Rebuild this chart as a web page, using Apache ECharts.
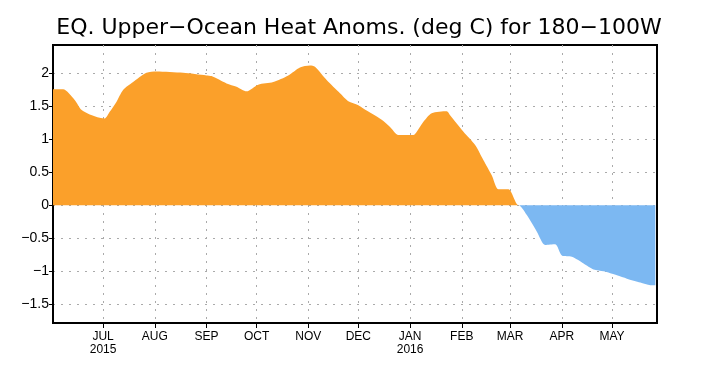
<!DOCTYPE html>
<html>
<head>
<meta charset="utf-8">
<script src="https://cdn.jsdelivr.net/npm/echarts@6/dist/echarts.min.js"></script>
<style>html,body{margin:0;padding:0;background:#fff;}#c{width:706px;height:377px;}</style>
</head>
<body>
<div id="c"></div>
<script>
var titleText = 'EQ. Upper\u2212Ocean Heat Anoms. (deg C) for 180\u2212100W';
var dates = ['2015-06-01','2015-06-07','2015-06-14','2015-06-18','2015-06-23','2015-06-29','2015-07-02','2015-07-05','2015-07-09','2015-07-13','2015-07-19','2015-07-27','2015-08-02','2015-08-18','2015-09-01','2015-09-04','2015-09-13','2015-09-19','2015-09-25','2015-10-02','2015-10-11','2015-10-20','2015-10-27','2015-11-02','2015-11-05','2015-11-12','2015-11-20','2015-11-25','2015-12-01','2015-12-04','2015-12-15','2015-12-20','2015-12-25','2016-01-03','2016-01-05','2016-01-09','2016-01-14','2016-01-23','2016-01-25','2016-02-02','2016-02-09','2016-02-14','2016-02-19','2016-02-23','2016-02-29','2016-03-06','2016-03-11','2016-03-17','2016-03-22','2016-03-28','2016-04-01','2016-04-07','2016-04-14','2016-04-20','2016-04-26','2016-05-04','2016-05-10','2016-05-18','2016-05-24','2016-05-27'];
var values = [1.75,1.75,1.59,1.44,1.37,1.32,1.31,1.41,1.56,1.74,1.86,2.0,2.02,2.0,1.96,1.95,1.84,1.79,1.72,1.82,1.86,1.96,2.08,2.11,2.09,1.89,1.69,1.57,1.51,1.46,1.29,1.18,1.06,1.06,1.11,1.26,1.39,1.42,1.36,1.11,0.91,0.68,0.45,0.24,0.24,0,-0.15,-0.40,-0.60,-0.59,-0.76,-0.78,-0.88,-0.97,-1.0,-1.06,-1.11,-1.17,-1.21,-1.21];
var monthStarts = ['2015-07-01','2015-08-01','2015-09-01','2015-10-01','2015-11-01','2015-12-01','2016-01-01','2016-02-01','2016-03-01','2016-04-01','2016-05-01'];
var monthLabels = ['JUL\n2015','AUG','SEP','OCT','NOV','DEC','JAN\n2016','FEB','MAR','APR','MAY'];
var yTicks = [-1.5,-1,-0.5,0,0.5,1,1.5,2];
var xStart = '2015-06-01';
var xEndDays = 362;
var yMin = -1.78, yMax = 2.42;

function dayOf(s){ return (Date.parse(s + 'T00:00:00Z') - Date.parse(xStart + 'T00:00:00Z')) / 86400000; }
var xs = dates.map(dayOf);
var monthDays = monthStarts.map(dayOf);
var posData = xs.map(function(x,i){ return [x, Math.max(values[i],0)]; });
var negData = xs.map(function(x,i){ return [x, Math.min(values[i],0)]; });
var labelMap = {};
monthDays.forEach(function(d,i){ labelMap[d] = monthLabels[i]; });

var chart = echarts.init(document.getElementById('c'), null, {renderer:'canvas'});
var font = 'Liberation Sans';
chart.setOption({
  animation:false,
  backgroundColor:'#fff',
  title:{text:titleText,left:354,top:12,textAlign:'center',
    textStyle:{fontFamily:'DejaVu Sans',fontSize:22,fontWeight:'normal',color:'#000'}},
  grid:{left:53,right:49,top:45,bottom:54,show:true,borderColor:'#000',borderWidth:2,backgroundColor:'transparent'},
  xAxis:{type:'value',min:0,max:xEndDays,
    axisLine:{show:true,onZero:false,lineStyle:{color:'#000',width:2}},
    axisTick:{show:true,customValues:monthDays,length:5,lineStyle:{color:'#000',width:1}},
    axisLabel:{customValues:monthDays,margin:7,color:'#000',fontFamily:font,fontSize:12,lineHeight:13,
      formatter:function(v){ return labelMap[Math.round(v)] || ''; }},
    splitLine:{show:true,lineStyle:{color:'#aaa',type:[2,6],width:1}}
  },
  yAxis:{type:'value',min:yMin,max:yMax,
    axisLine:{show:true,lineStyle:{color:'#000',width:2}},
    axisTick:{show:true,customValues:yTicks,length:4,lineStyle:{color:'#000',width:1}},
    axisLabel:{customValues:yTicks,margin:4,color:'#000',fontFamily:font,fontSize:14,
      formatter:function(v){ var s = String(Math.round(v*10)/10); return s.replace('-', '\u2212'); }},
    splitLine:{show:true,lineStyle:{color:'#aaa',type:[2,6],width:1}}
  },
  series:[
    {type:'line',data:posData,symbol:'none',smooth:0.25,lineStyle:{width:0},areaStyle:{color:'#FBA02A',opacity:1,origin:0},z:2},
    {type:'line',data:negData,symbol:'none',smooth:0.25,lineStyle:{width:0},areaStyle:{color:'#7CB8F2',opacity:1,origin:0},z:2}
  ]
});
</script>
</body>
</html>
